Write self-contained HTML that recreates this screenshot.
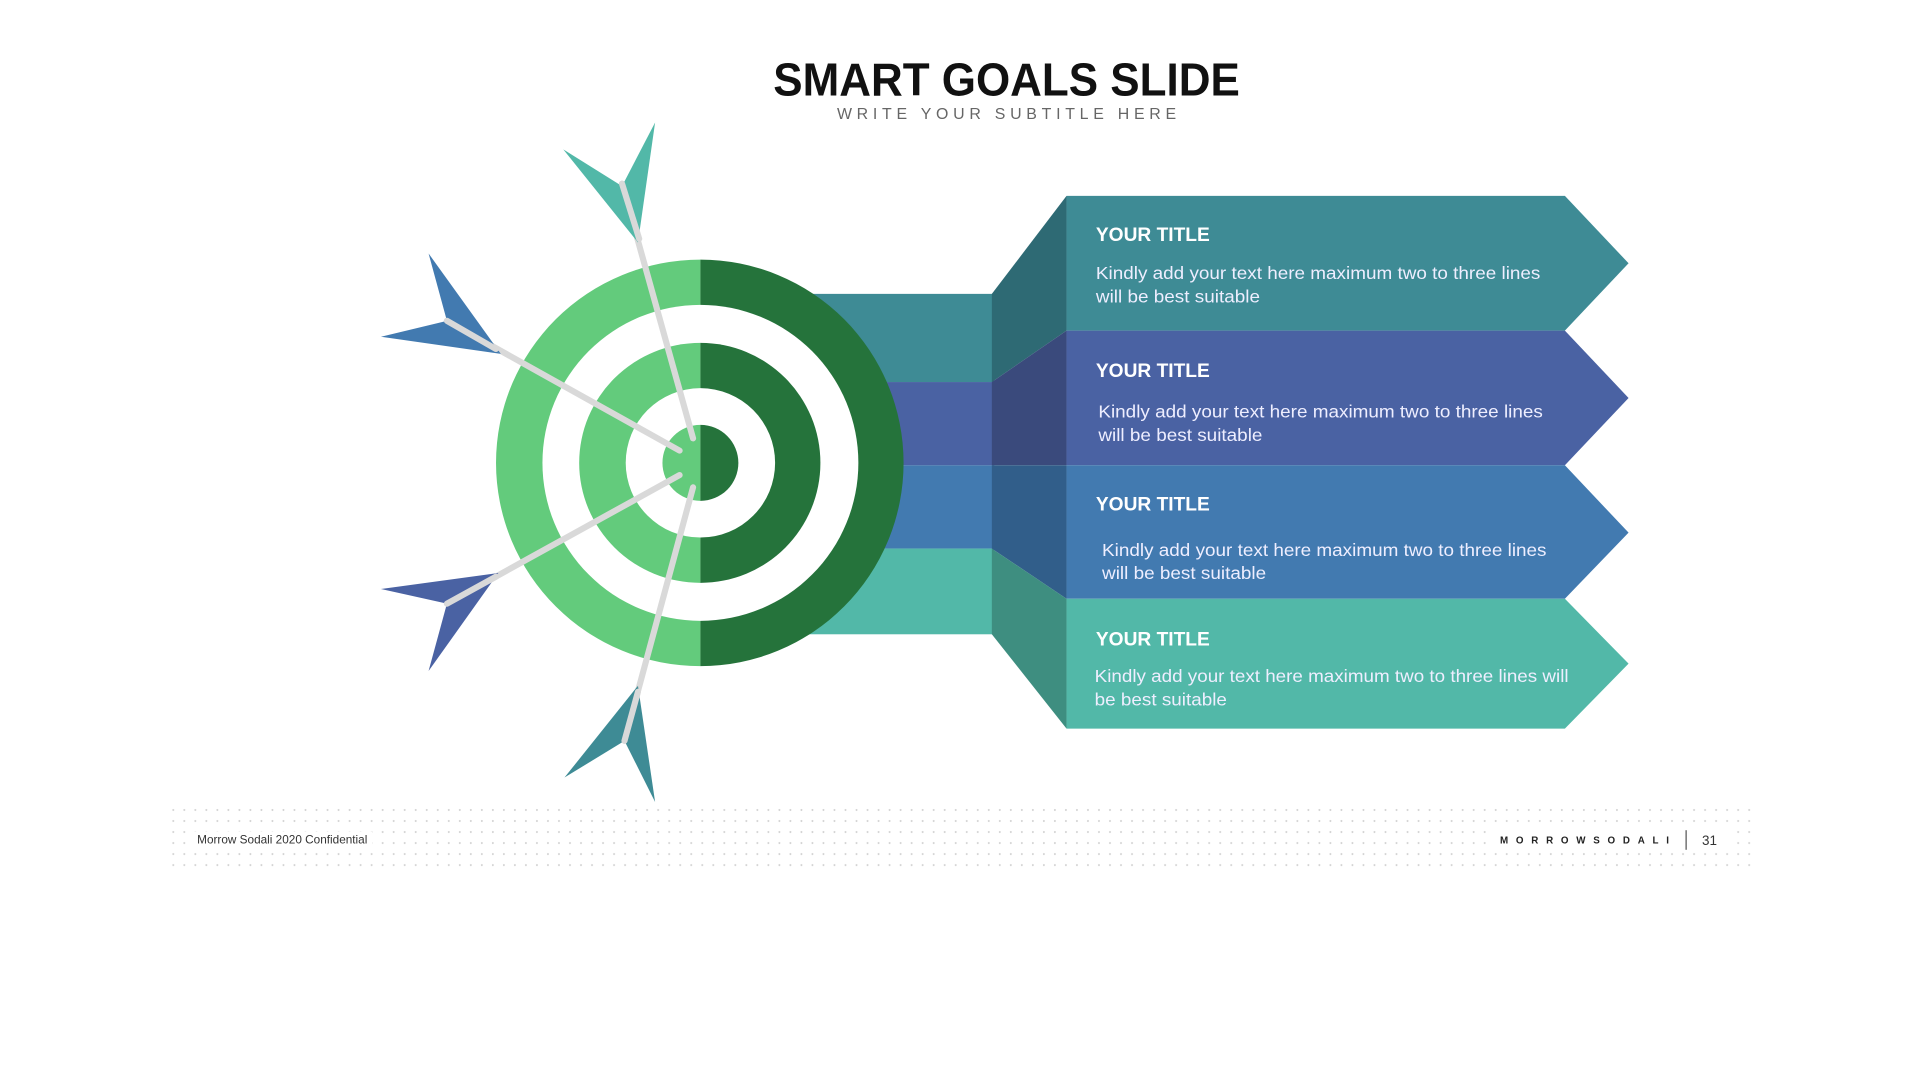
<!DOCTYPE html>
<html><head><meta charset="utf-8"><style>
html,body{margin:0;padding:0;background:#fff;}
svg{display:block;}
</style></head><body>
<svg width="1920" height="1080" viewBox="0 0 1567 882" preserveAspectRatio="xMinYMin meet" xmlns="http://www.w3.org/2000/svg">
<defs>
<pattern id="dots" x="140" y="660" width="9" height="9" patternUnits="userSpaceOnUse">
<circle cx="1.5" cy="1.5" r="0.8" fill="#cfcfcf"/>
</pattern>
</defs>
<rect width="1567" height="882" fill="#fff"/>
<text x="822" y="78" text-anchor="middle" font-family="Liberation Sans, sans-serif" font-weight="bold" font-size="38" fill="#111" textLength="381" lengthAdjust="spacingAndGlyphs">SMART GOALS SLIDE</text>
<text x="822" y="97" text-anchor="middle" font-family="Liberation Sans, sans-serif" font-size="13" fill="#666" textLength="277" lengthAdjust="spacing">WRITE YOUR SUBTITLE HERE</text>

<rect x="650" y="240" width="162" height="72" fill="#3e8b95"/>
<rect x="650" y="312" width="162" height="68" fill="#4a62a3"/>
<rect x="650" y="380" width="162" height="68" fill="#427ab0"/>
<rect x="650" y="448" width="162" height="70" fill="#52b8a8"/>
<polygon points="810,240 871,160 871,270 810,312" fill="#2e6a74"/>
<polygon points="810,312 871,270 871,380 810,380" fill="#3a4a7c"/>
<polygon points="810,380 871,380 871,489 810,448" fill="#315e8a"/>
<polygon points="810,448 871,489 871,595 810,518" fill="#3e8e80"/>
<polygon points="871,160 1278,160 1330,215 1278,270 871,270" fill="#3e8b95"/>
<polygon points="871,270 1278,270 1330,325 1278,380 871,380" fill="#4a62a3"/>
<polygon points="871,380 1278,380 1330,435 1278,489 871,489" fill="#427ab0"/>
<polygon points="871,489 1278,489 1330,542 1278,595 871,595" fill="#52b8a8"/>
<g font-family="Liberation Sans, sans-serif" fill="#fff">
<text x="895" y="197" font-weight="bold" font-size="16" textLength="93" lengthAdjust="spacingAndGlyphs">YOUR TITLE</text>
<text x="895" y="228" font-size="14.5" fill="#eef" textLength="363" lengthAdjust="spacingAndGlyphs">Kindly add your text here maximum  two to three lines</text>
<text x="895" y="247" font-size="14.5" fill="#eef" textLength="134" lengthAdjust="spacingAndGlyphs">will be best suitable</text>
<text x="895" y="308" font-weight="bold" font-size="16" textLength="93" lengthAdjust="spacingAndGlyphs">YOUR TITLE</text>
<text x="897" y="341" font-size="14.5" fill="#eef" textLength="363" lengthAdjust="spacingAndGlyphs">Kindly add your text here maximum  two to three lines</text>
<text x="897" y="360" font-size="14.5" fill="#eef" textLength="134" lengthAdjust="spacingAndGlyphs">will be best suitable</text>
<text x="895" y="417" font-weight="bold" font-size="16" textLength="93" lengthAdjust="spacingAndGlyphs">YOUR TITLE</text>
<text x="900" y="454" font-size="14.5" fill="#eef" textLength="363" lengthAdjust="spacingAndGlyphs">Kindly add your text here maximum  two to three lines</text>
<text x="900" y="473" font-size="14.5" fill="#eef" textLength="134" lengthAdjust="spacingAndGlyphs">will be best suitable</text>
<text x="895" y="527" font-weight="bold" font-size="16" textLength="93" lengthAdjust="spacingAndGlyphs">YOUR TITLE</text>
<text x="894" y="557" font-size="14.5" fill="#eef" textLength="387" lengthAdjust="spacingAndGlyphs">Kindly add your text here maximum  two to three lines will</text>
<text x="894" y="576" font-size="14.5" fill="#eef" textLength="108" lengthAdjust="spacingAndGlyphs">be best suitable</text>
</g>

<path d="M572,212 A167,166 0 0 0 572,544 Z" fill="#63cb7c"/>
<path d="M572,212 A166,166 0 0 1 572,544 Z" fill="#25733b"/>
<circle cx="572" cy="378" r="129" fill="#fff"/>
<path d="M572,280 A99,98 0 0 0 572,476 Z" fill="#63cb7c"/>
<path d="M572,280 A98,98 0 0 1 572,476 Z" fill="#25733b"/>
<circle cx="572" cy="378" r="61" fill="#fff"/>
<path d="M572,347 A31,31 0 0 0 572,409 Z" fill="#63cb7c"/>
<path d="M572,347 A31,31 0 0 1 572,409 Z" fill="#25733b"/>

<g stroke="#d9d9d9" stroke-width="5" stroke-linecap="round">
<line x1="566" y1="358" x2="508" y2="150"/>
<line x1="555" y1="368" x2="365" y2="262"/>
<line x1="555" y1="388" x2="365" y2="493"/>
<line x1="566" y1="398" x2="510" y2="605"/>
</g>
<polygon points="535,100 521,198 508,152" fill="#52b8a8"/>
<polygon points="460,122 521,198 508,152" fill="#52b8a8"/>
<polygon points="350,207 409,289 365,262" fill="#427ab0"/>
<polygon points="311,275 409,289 365,262" fill="#427ab0"/>
<polygon points="311,481 407,468 365,493" fill="#4a62a3"/>
<polygon points="350,548 407,468 365,493" fill="#4a62a3"/>
<polygon points="461,635 521,560 510,605" fill="#3e8b95"/>
<polygon points="535,655 521,560 510,605" fill="#3e8b95"/>
<g stroke="#d9d9d9" stroke-width="5" stroke-linecap="round">
<line x1="522" y1="195" x2="508" y2="150"/>
<line x1="405" y1="285" x2="365" y2="262"/>
<line x1="405" y1="471" x2="365" y2="493"/>
<line x1="521" y1="565" x2="510" y2="605"/>
</g>

<rect x="140" y="660" width="1290" height="54" fill="url(#dots)"/>
<rect x="158" y="679" width="146" height="16" fill="#fff"/>
<rect x="1218" y="677" width="196" height="18" fill="#fff"/>
<text x="161" y="689" font-family="Liberation Sans, sans-serif" font-size="9.5" fill="#333" textLength="139" lengthAdjust="spacingAndGlyphs">Morrow Sodali 2020 Confidential</text>
<text x="1225" y="689" font-family="Liberation Sans, sans-serif" font-weight="bold" font-size="8" fill="#222" textLength="138" lengthAdjust="spacing">MORROWSODALI</text>
<line x1="1377" y1="678" x2="1377" y2="694" stroke="#555" stroke-width="1"/>
<text x="1390" y="690" font-family="Liberation Sans, sans-serif" font-size="11" fill="#333">31</text>
</svg>
</body></html>
